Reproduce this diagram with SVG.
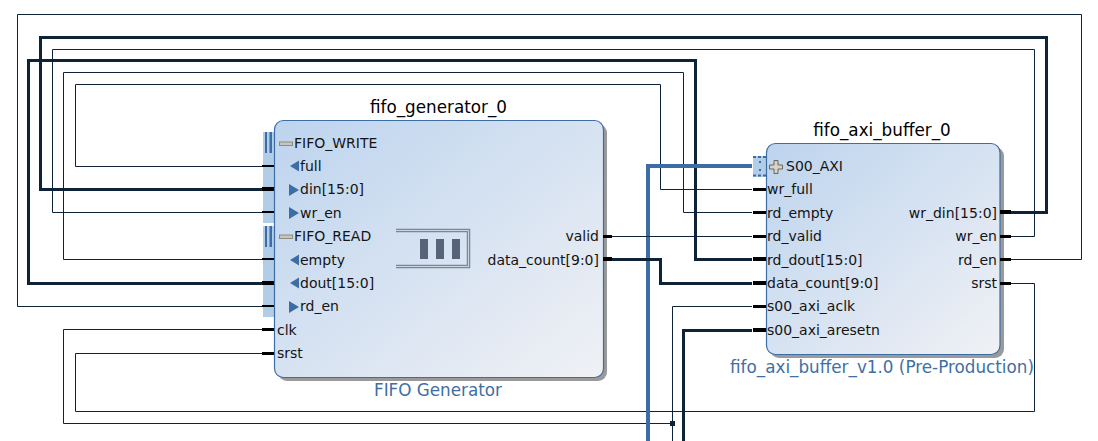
<svg xmlns="http://www.w3.org/2000/svg" width="1098" height="441" viewBox="0 0 1098 441">
<style>
text{font-family:"DejaVu Sans",sans-serif;font-size:14px;fill:#141414}
.title{font-size:16.8px;fill:#000;text-anchor:middle}
.sub{font-size:16.8px;fill:#3f6fa3;text-anchor:middle}
.r{text-anchor:end}
.body{stroke:#3c6ea5;stroke-width:1.2}
.shadow{fill:#9a9a9a}
.intf{fill:#b2cde8}
.stripe{fill:#3c6ea5}
.w{fill:none;stroke:#0f2338;stroke-linejoin:miter}
.t{stroke-width:1}
.b{stroke-width:3}
.axi{fill:none;stroke:#3c6ea5;stroke-width:4}
.pin{stroke:#000;stroke-width:2}
.pinc{stroke:#000;stroke-width:3}
.pinb{stroke:#000;stroke-width:4}
.arr{fill:#3c6ea5}
.minus{fill:#c8c6bc;stroke:#8c8c80;stroke-width:1}
</style>
<defs>
<linearGradient id="g" x1="0" y1="0" x2="1" y2="1">
<stop offset="0" stop-color="#bdd4ee"/>
<stop offset="1" stop-color="#f0f1f5"/>
</linearGradient>
</defs>
<g id="connectors">
<path class="w t" d="M263 306.500H17.500V14.500H1081.500V259.500H1010"/>
<path class="w b" d="M263 189.500H40.500V37.500H1046.500V212.500H1010"/>
<path class="w t" d="M263 212.500H52.500V49.500H1034.500V236.500H1010"/>
<path class="w b" d="M263 283.500H28.500V60.500H695.500V259.500H752"/>
<path class="w t" d="M263 259.500H63.500V72.500H683.500V212.500H752"/>
<path class="w t" d="M263 166.500H75.500V84.500H660.500V189.500H752"/>
<path class="w t" d="M263 329.500H63.500V423.500H672"/>
<path class="w t" d="M672.500 441V306.500H752"/>
<rect x="670" y="421" width="5" height="5" fill="#0f2338"/>
<path class="w t" d="M263 353.500H75.500V411.500H1034.500V283.500H1010"/>
<path class="axi" d="M648 441V166H752"/>
<path class="w b" d="M683.500 441V330.500H752"/>
<path class="w t" d="M612 236.500H752"/>
<path class="w b" d="M612 259.500H660.500V283.500H752"/>
</g>
<g id="fifo_generator_0">
<rect x="278" y="124" width="329" height="257" rx="9" class="shadow"/>
<rect class="intf" x="263" y="132" width="11" height="91"/>
<rect class="intf" x="263" y="226" width="11" height="91"/>
<rect class="stripe" x="265" y="132" width="2" height="21"/><rect class="stripe" x="269.500" y="132" width="2.500" height="21"/>
<rect class="stripe" x="265" y="226" width="2" height="21"/><rect class="stripe" x="269.500" y="226" width="2.500" height="21"/>
<rect class="body" x="274.500" y="120.500" width="329" height="257" rx="9" fill="url(#g)"/>
<text class="title" x="438.500" y="113">fifo_generator_0</text>
<text class="sub" x="438" y="396">FIFO Generator</text>
<path class="pin" d="M262 166H274M262 212H274M262 259H274M262 306H274"/>
<path class="pinc" d="M262 329.500H274M262 353.500H274"/>
<path class="pinb" d="M262 189H274M262 283H274"/>
<rect class="minus" x="279.500" y="142" width="13" height="3.500"/>
<rect class="minus" x="279.500" y="235" width="13" height="3.500"/>
<path class="arr" d="M290 166l9-5.500v11z"/>
<path class="arr" d="M289 184l10 6-10 6z"/>
<path class="arr" d="M289 207l10 6-10 6z"/>
<path class="arr" d="M290 260l9-5.500v11z"/>
<path class="arr" d="M290 283l9-5.500v11z"/>
<path class="arr" d="M289 301l10 6-10 6z"/>
<text x="294" y="148">FIFO_WRITE</text>
<text x="300" y="171">full</text>
<text x="300" y="194">din[15:0]</text>
<text x="300" y="218">wr_en</text>
<text x="294" y="241">FIFO_READ</text>
<text x="300" y="265">empty</text>
<text x="300" y="288">dout[15:0]</text>
<text x="300" y="311">rd_en</text>
<text x="277" y="335">clk</text>
<text x="277" y="358">srst</text>
<text class="r" x="599" y="241">valid</text>
<text class="r" x="599" y="265">data_count[9:0]</text>
<path d="M396 230.500H468.500V266.500H396" fill="none" stroke="#7b8799" stroke-width="3.500"/>
<path d="M396 230.500H468.500V266.500H396" fill="none" stroke="#c9d6e6" stroke-width="1"/>
<rect x="420" y="239" width="8" height="20" fill="#566378"/>
<rect x="436" y="239" width="8" height="20" fill="#566378"/>
<rect x="452" y="239" width="8" height="20" fill="#566378"/>
<path class="pinc" d="M603 236.500H612"/>
<path class="pinb" d="M603 259H612"/>
</g>
<g id="fifo_axi_buffer_0">
<rect x="770" y="147" width="234" height="211" rx="9" class="shadow"/>
<rect class="intf" x="753" y="156" width="13" height="21"/>
<path d="M753 157H766M753 175.500H766" stroke="#3c6ea5" stroke-width="2" stroke-dasharray="3 2" fill="none"/>
<path d="M760 161V163M760 169V171" stroke="#3c6ea5" stroke-width="2" fill="none"/>
<rect class="body" x="766.500" y="143.500" width="233.500" height="211" rx="9" fill="url(#g)"/>
<text class="title" x="882" y="136">fifo_axi_buffer_0</text>
<text class="sub" x="882" y="373">fifo_axi_buffer_v1.0 (Pre-Production)</text>
<path class="pinc" d="M753 189.500H766M753 212.500H766M753 236.500H766M753 306.500H766"/>
<path class="pinb" d="M753 259H766M753 283H766M753 330H766"/>
<path class="pinc" d="M1000 236.500H1011M1000 259.500H1011M1000 283.500H1011"/>
<path class="pinb" d="M1000 212H1011"/>
<path d="M774 160.500H778V165H782.500V169H778V173.500H774V169H769.500V165H774z" fill="#d6d3c6" stroke="#66665c" stroke-width="1"/>
<text x="786" y="171">S00_AXI</text>
<text x="767" y="194">wr_full</text>
<text x="767" y="218">rd_empty</text>
<text x="767" y="241">rd_valid</text>
<text x="767" y="265">rd_dout[15:0]</text>
<text x="767" y="288">data_count[9:0]</text>
<text x="767" y="311">s00_axi_aclk</text>
<text x="767" y="335">s00_axi_aresetn</text>
<text class="r" x="997" y="218">wr_din[15:0]</text>
<text class="r" x="997" y="241">wr_en</text>
<text class="r" x="997" y="265">rd_en</text>
<text class="r" x="997" y="288">srst</text>
</g>
</svg>
